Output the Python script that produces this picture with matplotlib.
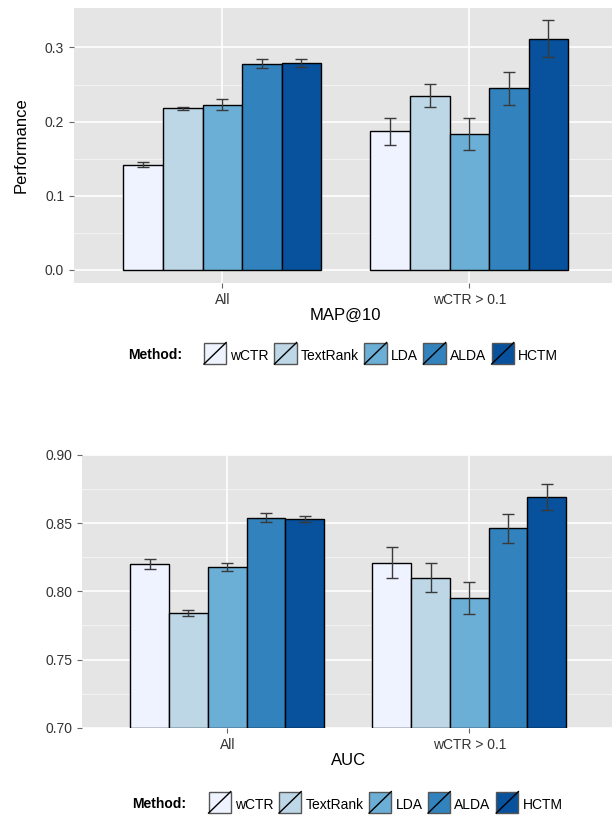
import numpy as np
import matplotlib
matplotlib.use("Agg")
import matplotlib.pyplot as plt
from matplotlib.patches import Patch, Rectangle
from matplotlib.lines import Line2D
from matplotlib.legend_handler import HandlerBase

plt.rcParams["font.family"] = ["Liberation Sans", "DejaVu Sans"]

# --- data ---
groups = ["All", "wCTR > 0.1"]
methods = ["wCTR", "TextRank", "LDA", "ALDA", "HCTM"]
colors = ["#EFF3FF", "#BDD7E7", "#6BAED6", "#3182BD", "#08519C"]

# MAP@10 (rows = groups, cols = methods)
map_mean = np.array([[0.142, 0.218, 0.223, 0.278, 0.279],
                     [0.187, 0.235, 0.183, 0.245, 0.312]])
map_err = np.array([[0.0035, 0.0018, 0.007, 0.006, 0.0055],
                    [0.018, 0.016, 0.022, 0.022, 0.0245]])

# AUC
auc_mean = np.array([[0.820, 0.784, 0.818, 0.854, 0.853],
                     [0.821, 0.810, 0.795, 0.846, 0.869]])
auc_err = np.array([[0.004, 0.002, 0.003, 0.003, 0.0025],
                    [0.0115, 0.0105, 0.0115, 0.0105, 0.0095]])

BG = "#E5E5E5"
TICK_COL = "#333333"


class DiagHandler(HandlerBase):
    # square key with a diagonal stroke, like ggplot's bar legend
    def create_artists(self, legend, orig_handle, xdescent, ydescent,
                       width, height, fontsize, trans):
        x0, y0 = -xdescent, -ydescent
        h = height + ydescent
        r = Rectangle((x0, y0), width, h,
                      facecolor=orig_handle.get_facecolor(),
                      edgecolor="#555555", lw=1.0, transform=trans)
        l = Line2D([x0, x0 + width], [y0, y0 + h],
                   color="black", lw=1.0, transform=trans)
        return [r, l]


def draw_panel(ax, means, errs, yticks, minor, ylim, fmt, xlabel):
    ax.set_facecolor(BG)
    for s in ax.spines.values():
        s.set_visible(False)
    ax.set_axisbelow(True)
    for m in minor:
        ax.axhline(m, color="#F2F2F2", lw=0.8, zorder=0)
    for t in yticks:
        ax.axhline(t, color="white", lw=1.2, zorder=0)
    x = np.arange(len(groups))
    for xi in x:
        ax.axvline(xi, color="white", lw=1.2, zorder=0)
    w = 0.16
    n = len(methods)
    for j in range(n):
        pos = x + (j - (n - 1) / 2) * w
        bottom = ylim[0] if ylim[0] > 0 else 0
        ax.bar(pos, means[:, j] - bottom, width=w, bottom=bottom,
               color=colors[j], edgecolor="black", lw=1.0, zorder=2)
        ax.errorbar(pos, means[:, j], yerr=errs[:, j], fmt="none",
                    ecolor="#3a3a3a", elinewidth=1.0, capsize=4,
                    capthick=1.0, zorder=3)
    ax.set_xlim(-0.6, 1.6)
    ax.set_ylim(*ylim)
    ax.set_xticks(x)
    ax.set_xticklabels(groups)
    ax.set_yticks(yticks)
    ax.set_yticklabels([fmt.format(t) for t in yticks])
    ax.tick_params(axis="both", colors="#666666", labelcolor=TICK_COL,
                   labelsize=10, length=3.6, width=0.8, pad=3.5)
    ax.set_xlabel(xlabel, fontsize=12, labelpad=1)


fig = plt.figure(figsize=(6.12, 8.15), dpi=100)

ax1 = fig.add_axes([0.121, 0.653, 0.888, 0.337])
draw_panel(ax1, map_mean, map_err, [0.0, 0.1, 0.2, 0.3], [0.05, 0.15, 0.25],
           (-0.0175, 0.353), "{:.1f}", "MAP@10")
ax1.set_ylabel("Performance", fontsize=12, labelpad=12)

ax2 = fig.add_axes([0.134, 0.107, 0.870, 0.335])
draw_panel(ax2, auc_mean, auc_err, [0.70, 0.75, 0.80, 0.85, 0.90],
           [0.725, 0.775, 0.825, 0.875], (0.70, 0.90), "{:.2f}", "AUC")

handles = [Patch(facecolor=c) for c in colors]
for ycen, xcen, xm in [(0.564, 0.6225, 0.209), (0.013, 0.630, 0.216)]:
    fig.text(xm, ycen, "Method:", fontsize=10, fontweight="bold",
             ha="left", va="center")
    fig.legend(handles, methods, loc="center", bbox_to_anchor=(xcen, ycen),
               ncol=5, frameon=False, fontsize=10, handlelength=1.6,
               handleheight=1.55, handletextpad=0.3, columnspacing=0.4,
               borderpad=0, handler_map={Patch: DiagHandler()})

fig.savefig("out.png", dpi=100)
